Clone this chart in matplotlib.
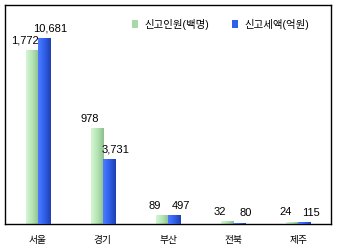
import numpy as np
import matplotlib
matplotlib.use('Agg')
import matplotlib.pyplot as plt
from matplotlib.patches import Patch
from matplotlib.colors import LinearSegmentedColormap

plt.rcParams['font.family'] = ['Liberation Sans', 'Noto Sans CJK KR']

# data
regions = ['서울', '경기', '부산', '전북', '제주']
people = [1772, 978, 89, 32, 24]       # 신고인원(백명)
tax = [10681, 3731, 497, 80, 115]      # 신고세액(억원)
legend_labels = ['신고인원(백명)', '신고세액(억원)']

green_map = LinearSegmentedColormap.from_list('g', ['#d4f7d4', '#b4e4b4', '#8fbf8f'])
blue_map = LinearSegmentedColormap.from_list('b', ['#4a7cff', '#3060e8', '#1f3fb0'])


def gradient_bars(a, bars, cmap):
    grad = np.linspace(0, 1, 64).reshape(1, -1)
    for b in bars:
        x0, y0 = b.get_x(), b.get_y()
        x1, y1 = x0 + b.get_width(), y0 + b.get_height()
        im = a.imshow(grad, extent=[x0, x1, y0, y1], aspect='auto', cmap=cmap,
                      zorder=b.get_zorder() + 0.1, interpolation='bilinear')
        im.set_clip_path(b)


fig = plt.figure(figsize=(3.37, 2.52), dpi=100)
ax = fig.add_axes([5 / 337, 28 / 252, 326 / 337, 219 / 252])
ax2 = ax.twinx()

x = np.arange(len(regions))
w = 0.185
bars1 = ax.bar(x - w / 2, people, w, color='#b4e4b4', linewidth=0)
bars2 = ax2.bar(x + w / 2, tax, w, color='#3060e8', linewidth=0)
gradient_bars(ax, bars1, green_map)
gradient_bars(ax2, bars2, blue_map)

for xi, v in zip(x, people):
    ax.annotate(f'{v:,}', (xi - w / 2, v), xytext=(-5, 3), textcoords='offset points',
                ha='center', va='bottom', fontsize=8)
for xi, v in zip(x, tax):
    ax2.annotate(f'{v:,}', (xi + w / 2, v), xytext=(5, 3), textcoords='offset points',
                 ha='center', va='bottom', fontsize=8)

ax.set_xlim(-0.5, len(regions) - 0.5)
ax.set_ylim(0, 2230)
ax2.set_ylim(0, 12576)
ax.set_yticks([])
ax2.set_yticks([])
ax.set_xticks(x, regions, fontsize=7)
ax.tick_params(axis='x', length=0, pad=8)
for s in ax.spines.values():
    s.set_linewidth(1)
    s.set_color('black')
for s in ax2.spines.values():
    s.set_visible(False)

handles = [Patch(facecolor='#a8d8a8'), Patch(facecolor='#3060e8')]
ax2.legend(handles, legend_labels, loc='center left', bbox_to_anchor=(0.36, 0.913),
           ncol=2, frameon=False, fontsize=7.5, handlelength=0.6, handleheight=0.9,
           handletextpad=0.6, columnspacing=2.2)

fig.savefig('out.png', dpi=100)
